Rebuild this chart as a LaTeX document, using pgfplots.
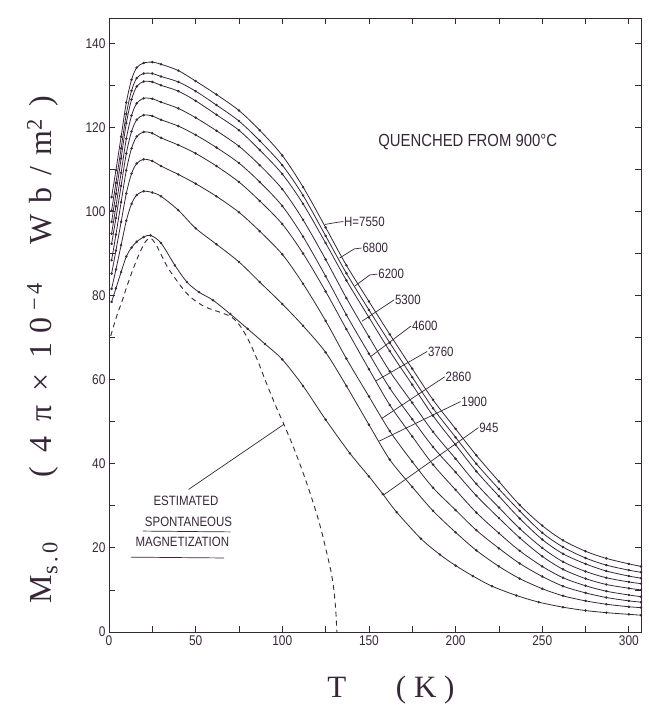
\documentclass[border=0pt]{standalone}
\usepackage{pgfplots}
\pgfplotsset{compat=1.18}
\usepackage{fontspec}
\setmainfont{Liberation Serif}
\newfontfamily\lettering[FakeStretch=0.85]{Liberation Sans}
\definecolor{ink}{RGB}{55,38,55}

\begin{document}
\begin{tikzpicture}
\useasboundingbox (0,0) rectangle (648pt,712pt);
\begin{axis}[
  at={(109pt,80pt)}, anchor=south west,
  scale only axis, width=532pt, height=614pt,
  xmin=0, xmax=307, ymin=0, ymax=146,
  xtick={0,50,...,300}, ytick={0,20,...,140},
  minor x tick num=1, minor y tick num=1,
  tick align=inside, xtick pos=both, ytick pos=both,
  major tick length=6pt, minor tick length=6pt,
  axis line style={ink, line width=0.9pt},
  every tick/.style={ink, line width=0.8pt},
  tick label style={font=\lettering\fontsize{14}{14}\selectfont, text=ink},
  /pgf/number format/assume math mode=true,
  xlabel={T\hspace{1.6em}(\hspace{0.25em}K\hspace{0.25em})},
  xlabel style={font=\fontsize{31}{31}\selectfont, text=ink, at={(axis description cs:0.53,-0.094)}, anchor=center},
  ylabel={M\textsubscript{s\,.\,0}\hspace{2em}(\hspace{0.45em}4\hspace{0.45em}π\hspace{0.45em}×\hspace{0.45em}1\hspace{0.3em}0\hspace{0.2em}\textsuperscript{−\,4}\hspace{1.2em}W\hspace{0.35em}b\hspace{0.35em}/\hspace{0.35em}m\textsuperscript{2}\hspace{0.4em})},
  ylabel style={font=\fontsize{32}{32}\selectfont, text=ink, at={(axis description cs:-0.125,0.46)}, anchor=center},
  every axis plot/.append style={ink, line width=0.8pt},
]
% H = 7550
\addplot[smooth, mark=*, mark size=0.8pt] coordinates {
(1.5,103.4) (4,109.8) (7,117.8) (10,125.9) (13,131.3) (16,134.2) (20,135.3) (25,135.5) (30,135.0) (40,133.5) (50,131.0) (62,127.8) (75,124.0) (87,119.3) (100,113.3) (112,105.8) (125,96.2) (137,87.2) (150,78.6) (162,70.8) (175,62.6) (187,55.2) (200,48.3) (212,42.0) (225,35.8) (237,30.2) (250,25.3) (262,21.8) (275,19.2) (287,17.5) (300,16.2) (307,15.6)};
% 6800
\addplot[smooth, mark=*, mark size=0.8pt] coordinates {
(1.5,100.2) (4,106.8) (7,115.0) (10,123.2) (13,128.7) (16,131.7) (20,132.8) (25,132.8) (30,132.1) (40,130.8) (50,128.6) (62,125.3) (75,121.5) (87,116.8) (100,111.0) (112,103.8) (125,94.2) (137,85.3) (150,76.6) (162,68.8) (175,60.6) (187,53.2) (200,46.3) (212,40.0) (225,34.0) (237,28.8) (250,23.6) (262,20.2) (275,17.6) (287,15.9) (300,14.7) (307,14.2)};
% 6200
\addplot[smooth, mark=*, mark size=0.8pt] coordinates {
(1.5,97.5) (4,104.2) (7,112.6) (10,121.0) (13,126.6) (16,129.7) (20,130.9) (25,130.8) (30,130.0) (40,128.6) (50,126.3) (62,123.0) (75,119.3) (87,114.6) (100,108.9) (112,101.8) (125,92.5) (137,83.6) (150,74.8) (162,66.8) (175,58.8) (187,51.4) (200,44.5) (212,38.2) (225,32.3) (237,27.0) (250,22.0) (262,18.6) (275,16.2) (287,14.5) (300,13.3) (307,12.8)};
% 5300
\addplot[smooth, mark=*, mark size=0.8pt] coordinates {
(1.5,94.7) (4,101.2) (7,109.2) (10,117.3) (13,122.8) (16,125.7) (20,126.9) (25,126.8) (30,126.0) (40,124.5) (50,122.3) (62,119.2) (75,115.5) (87,111.0) (100,105.3) (112,98.0) (125,88.6) (137,79.4) (150,70.2) (162,62.0) (175,54.5) (187,47.6) (200,41.2) (212,35.2) (225,29.6) (237,24.6) (250,20.0) (262,16.7) (275,14.4) (287,12.9) (300,11.9) (307,11.5)};
% 4600
\addplot[smooth, mark=*, mark size=0.8pt] coordinates {
(1.5,92.3) (4,98.4) (7,106.1) (10,113.8) (13,119.0) (16,121.8) (20,122.9) (25,122.7) (30,121.8) (40,120.3) (50,118.2) (62,115.2) (75,111.5) (87,107.0) (100,101.3) (112,94.0) (125,84.6) (137,75.4) (150,66.2) (162,58.0) (175,50.6) (187,44.0) (200,38.0) (212,32.4) (225,27.1) (237,22.4) (250,18.0) (262,14.9) (275,12.7) (287,11.3) (300,10.4) (307,10.0)};
% 3760
\addplot[smooth, mark=*, mark size=0.8pt] coordinates {
(1.5,88.4) (4,94.5) (7,102.2) (10,109.8) (13,115.0) (16,117.8) (20,118.9) (25,118.6) (30,117.5) (40,115.8) (50,113.8) (62,110.8) (75,107.0) (87,102.5) (100,97.0) (112,90.0) (125,81.0) (137,72.0) (150,62.5) (162,54.0) (175,46.5) (187,39.8) (200,33.8) (212,28.4) (225,23.5) (237,19.3) (250,15.6) (262,12.9) (275,11.0) (287,9.7) (300,8.8) (307,8.4)};
% 2860
\addplot[smooth, mark=*, mark size=0.8pt] coordinates {
(1.5,85.2) (4,90.7) (7,97.5) (10,104.3) (13,109.0) (16,111.4) (20,112.4) (25,112.0) (30,110.8) (40,108.8) (50,106.6) (62,103.6) (75,99.8) (87,95.3) (100,89.8) (112,82.8) (125,74.0) (137,65.0) (150,56.0) (162,47.8) (175,40.5) (187,34.3) (200,29.0) (212,24.2) (225,19.9) (237,16.3) (250,13.2) (262,10.9) (275,9.3) (287,8.2) (300,7.4) (307,7.1)};
% 1900
\addplot[smooth, mark=*, mark size=0.8pt] coordinates {
(1.5,81.6) (4,86.2) (7,92.0) (10,97.8) (13,101.8) (16,103.9) (20,104.8) (25,104.5) (30,103.6) (40,100.3) (50,96.0) (62,92.2) (75,88.0) (87,83.2) (100,78.0) (112,72.8) (125,66.5) (137,58.5) (150,49.3) (162,41.0) (175,34.5) (187,28.8) (200,23.7) (212,19.4) (225,15.6) (237,12.7) (250,10.3) (262,8.6) (275,7.4) (287,6.6) (300,6.0) (307,5.8)};
% 945
\addplot[smooth, mark=*, mark size=0.8pt] coordinates {
(1.5,78.5) (4,81.7) (7,85.6) (10,89.3) (13,91.4) (16,92.8) (20,93.9) (24,94.3) (30,92.5) (38,87.2) (45,83.2) (52,80.8) (60,78.9) (70,75.6) (80,72.1) (90,68.5) (100,64.8) (112,58.5) (125,50.5) (139,42.5) (150,37.0) (158,32.8) (166,28.5) (180,22.2) (191,18.4) (200,15.8) (210,13.3) (221,10.9) (235,8.7) (248,7.1) (262,5.9) (275,5.1) (287,4.6) (300,4.2) (307,4.0)};
% estimated spontaneous magnetization
\addplot[smooth, dash pattern=on 5pt off 4pt, line width=0.9pt] coordinates {
(1,70.4) (3,73.2) (5,75.8) (7.5,78.6) (10,81.8) (13,85.3) (17,89.5) (21,92.8) (24,93.6) (27,92.2) (30.6,89.3) (34,86.6) (38,84.2) (43,81.4) (48,79.3) (55.5,77.3) (65,75.9) (71,74.8) (76,72.6) (81,69.0) (86,64.3) (91,59.0) (97,53.0) (101,49.3) (106,44.4) (111,39.0) (115,34.3) (119.4,28.7) (122.5,24.2) (125.5,19.1) (128,14.6) (129.6,10.6) (130.8,5.5) (131.5,0)};

% curve labels and leaders
\begin{scope}[every node/.style={font=\lettering\fontsize{13.5}{13.5}\selectfont, text=ink, anchor=west, inner sep=0.5pt}]
\node at (axis cs:135.3,97.6) {H=7550};
\node at (axis cs:145.9,91.3) {6800};
\node at (axis cs:155.1,85.1) {6200};
\node at (axis cs:164.7,79.0) {5300};
\node at (axis cs:174.5,72.8) {4600};
\node at (axis cs:183.7,66.7) {3760};
\node at (axis cs:193.9,60.7) {2860};
\node at (axis cs:203.0,54.8) {1900};
\node at (axis cs:213.3,48.6) {945};
\end{scope}
\draw[ink, line width=0.7pt] (axis cs:135.2,97.6) -- (axis cs:131.5,97.4) -- (axis cs:124.5,96.9);
\draw[ink, line width=0.7pt] (axis cs:145.8,91.3) -- (axis cs:141.5,91.1) -- (axis cs:133.0,88.9);
\draw[ink, line width=0.7pt] (axis cs:155.0,85.1) -- (axis cs:150.5,84.9) -- (axis cs:142.0,82.3);
\draw[ink, line width=0.7pt] (axis cs:164.6,79.0) -- (axis cs:146.0,73.9);
\draw[ink, line width=0.7pt] (axis cs:174.4,72.8) -- (axis cs:151.0,65.5);
\draw[ink, line width=0.7pt] (axis cs:183.6,66.7) -- (axis cs:154.0,59.7);
\draw[ink, line width=0.7pt] (axis cs:193.8,60.7) -- (axis cs:157.5,50.8);
\draw[ink, line width=0.7pt] (axis cs:202.9,54.8) -- (axis cs:156.0,45.4);
\draw[ink, line width=0.7pt] (axis cs:213.2,48.6) -- (axis cs:158.5,32.6);

% annotations
\node[font=\lettering\fontsize{17.5}{17.5}\selectfont, text=ink] at (axis cs:207,116.5) {QUENCHED FROM 900°C};
\begin{scope}[every node/.style={font=\lettering\fontsize{13.5}{13.5}\selectfont, text=ink}]
\node at (axis cs:44.4,31.1) {ESTIMATED};
\node at (axis cs:45.9,26.3) {SPONTANEOUS};
\node at (axis cs:42.3,21.5) {MAGNETIZATION};
\end{scope}
\draw[ink, line width=0.7pt] (axis cs:19.5,24.0) -- (axis cs:70.0,23.8);
\draw[ink, line width=0.7pt] (axis cs:12.5,17.8) -- (axis cs:66.5,17.6);
\draw[ink, line width=0.7pt] (axis cs:45.9,33.9) -- (axis cs:101,49.4);
\end{axis}
\end{tikzpicture}
\end{document}
